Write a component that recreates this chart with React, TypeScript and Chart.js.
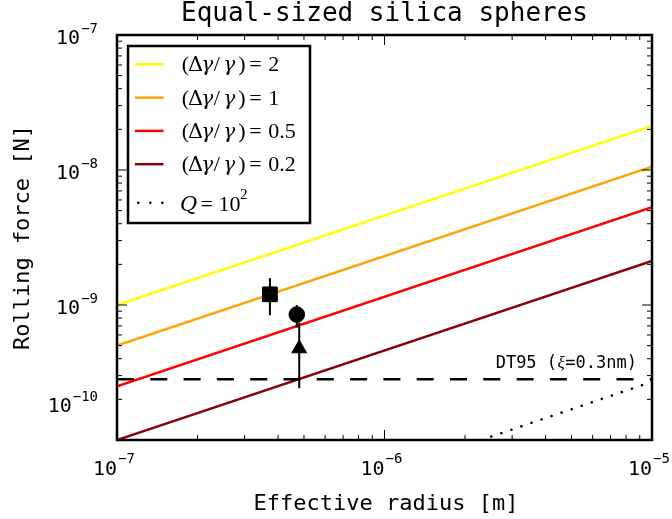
import React, { useEffect, useRef } from 'react';
import { Chart, registerables } from 'chart.js';

Chart.register(...registerables);

// ---- data ----
const radiusEnds = [1e-7, 1e-5];
const forceRatio2 = [1.0e-9, 2.12e-8];
const forceRatio1 = [5.0e-10, 1.06e-8];
const forceRatio05 = [2.5e-10, 5.3e-9];
const forceRatio02 = [1.0e-10, 2.12e-9];
const qRadius = [2.3e-6, 1e-5];
const qForce = [1.0e-10, 2.7e-10];
const dt95Radius = [1e-7, 1e-5];
const dt95Force = [2.82e-10, 2.82e-10];
const obsRadius = [3.73e-7, 4.70e-7, 4.80e-7];
const obsForce = [1.2e-9, 8.5e-10, 4.76e-10];
const obsLow = [8.4e-10, 6.8e-10, 2.42e-10];
const obsHigh = [1.58e-9, 1.0e-9, 7.4e-10];
const obsMarker = ['rect', 'circle', 'triangle'];
const seriesValues = ['2', '1', '0.5', '0.2'];
const seriesColors = ['#ffff00', '#ffa500', '#ff0000', '#8b0000'];
const xMajorTicks = [1e-7, 1e-6, 1e-5];
const yMajorTicks = [1e-10, 1e-9, 1e-8, 1e-7];
const xTickExps = ['−7', '−6', '−5'];
const yTickExps = ['−10', '−9', '−8', '−7'];
const titleText = 'Equal-sized silica spheres';
const xTitle = 'Effective radius [m]';
const yTitle = 'Rolling force [N]';
const dt95Label = 'DT95 (ξ=0.3nm)';

const mono = '"DejaVu Sans Mono", monospace';
const serif = '"Liberation Serif", "DejaVu Serif", serif';
const serif2 = '"DejaVu Serif", serif';

const pts = (xs: number[], ys: number[]) => xs.map((x, i) => ({ x, y: ys[i] }));

function drawPow(ctx: CanvasRenderingContext2D, exp: string, x: number, y: number, align: 'center' | 'right') {
  ctx.textAlign = 'left';
  ctx.textBaseline = 'alphabetic';
  ctx.font = `20px ${mono}`;
  const wb = ctx.measureText('10').width;
  ctx.font = `14px ${mono}`;
  const we = ctx.measureText(exp).width;
  const total = wb + 1 + we;
  const sx = align === 'center' ? x - total / 2 : x - total;
  ctx.font = `20px ${mono}`;
  ctx.fillText('10', sx, y);
  ctx.font = `14px ${mono}`;
  ctx.fillText(exp, sx + wb + 1, y - 11.5);
}

const decorPlugin = {
  id: 'decor',
  afterDatasetsDraw(chart: any) {
    const { ctx, chartArea } = chart;
    const { left, right, top, bottom } = chartArea;
    const xs = chart.scales.x;
    const ys = chart.scales.y;
    ctx.save();
    ctx.strokeStyle = '#000';
    ctx.lineWidth = 1;
    const seg = (a: number, b: number, c: number, d: number) => {
      ctx.beginPath();
      ctx.moveTo(a, b);
      ctx.lineTo(c, d);
      ctx.stroke();
    };
    const xTick = (v: number, len: number) => {
      const p = xs.getPixelForValue(v);
      seg(p, bottom, p, bottom - len);
      seg(p, top, p, top + len);
    };
    const yTick = (v: number, len: number) => {
      const p = ys.getPixelForValue(v);
      seg(left, p, left + len, p);
      seg(right, p, right - len, p);
    };
    xMajorTicks.forEach((v, i) => {
      xTick(v, 10);
      if (i < xMajorTicks.length - 1) for (let m = 2; m <= 9; m++) xTick(v * m, 5);
    });
    yMajorTicks.forEach((v, i) => {
      yTick(v, 10);
      if (i < yMajorTicks.length - 1) for (let m = 2; m <= 9; m++) yTick(v * m, 5);
    });
    ctx.lineWidth = 2.5;
    ctx.strokeRect(left, top, right - left, bottom - top);

    ctx.fillStyle = '#000';
    ctx.textAlign = 'left';
    ctx.textBaseline = 'alphabetic';
    ctx.font = `17px ${mono}`;
    const a = 'DT95 (';
    const c = '=0.3nm)';
    ctx.font = `17px ${mono}`;
    const wa = ctx.measureText(a).width;
    const wc = ctx.measureText(c).width;
    ctx.font = `italic 17px ${serif}`;
    const wxi = ctx.measureText('ξ').width + 1;
    const start = 637 - wa - wxi - wc;
    ctx.font = `17px ${mono}`;
    ctx.fillText(a, start, 368);
    ctx.fillText(c, start + wa + wxi, 368);
    ctx.font = `italic 17px ${serif}`;
    ctx.fillText('ξ', start + wa + 0.5, 368);
    ctx.restore();
  },
  afterDraw(chart: any) {
    const { ctx, chartArea } = chart;
    const { left, right, top, bottom } = chartArea;
    const xs = chart.scales.x;
    const ys = chart.scales.y;
    ctx.save();
    ctx.fillStyle = '#000';
    // tick labels
    xMajorTicks.forEach((v, i) => {
      drawPow(ctx, xTickExps[i], xs.getPixelForValue(v) - 3, bottom + 34.5, 'center');
    });
    yMajorTicks.forEach((v, i) => {
      const p = ys.getPixelForValue(v);
      const base = i === 0 ? p - 28 : p + 9;
      drawPow(ctx, yTickExps[i], left - 19, base, 'right');
    });
    // title and axis titles
    ctx.textAlign = 'center';
    ctx.textBaseline = 'alphabetic';
    ctx.font = `26px ${mono}`;
    ctx.fillText(titleText, (left + right) / 2, 21);
    ctx.font = `22px ${mono}`;
    ctx.fillText(xTitle, (left + right) / 2 + 1.5, 510);
    ctx.save();
    ctx.translate(28.5, (top + bottom) / 2);
    ctx.rotate(-Math.PI / 2);
    ctx.fillText(yTitle, 0, 0);
    ctx.restore();

    // legend
    const bx = 128, by = 46, bw = 182, bh = 177;
    ctx.fillStyle = '#fff';
    ctx.fillRect(bx, by, bw, bh);
    ctx.strokeStyle = '#000';
    ctx.lineWidth = 2.5;
    ctx.strokeRect(bx, by, bw, bh);
    const rowY = [64.3, 97.6, 130.9, 164.2];
    const up = `22px ${serif}`;
    const gr = `21px ${serif2}`;
    const it = `italic 20px ${serif2}`;
    ctx.fillStyle = '#000';
    ctx.textAlign = 'left';
    seriesValues.forEach((val, i) => {
      const y = rowY[i];
      ctx.strokeStyle = seriesColors[i];
      ctx.lineWidth = 2.5;
      ctx.beginPath();
      ctx.moveTo(135, y);
      ctx.lineTo(163.5, y);
      ctx.stroke();
      const b = y + 7;
      const x0 = 181.7;
      const parts: [string, string, number][] = [
        ['(', up, 0],
        ['Δ', gr, 6.2],
        ['γ', it, 19.5],
        ['/', up, 32],
        ['γ', it, 41.5],
        [')', up, 56.5],
        ['=', up, 67.5],
        [val, up, 86.6],
      ];
      parts.forEach(([t, f, dx]) => {
        ctx.font = f;
        ctx.fillText(t, x0 + dx, b);
      });
    });
    // Q row
    const qy = 202.7;
    ctx.strokeStyle = '#000';
    ctx.lineWidth = 2.6;
    ctx.lineCap = 'round';
    ctx.setLineDash([0.01, 12]);
    ctx.beginPath();
    ctx.moveTo(138.3, qy);
    ctx.lineTo(164, qy);
    ctx.stroke();
    ctx.setLineDash([]);
    ctx.lineCap = 'butt';
    const qb = 211;
    ctx.font = `italic 21px ${serif2}`;
    ctx.fillText('Q', 180, qb);
    ctx.font = up;
    ctx.fillText('=', 200.5, qb);
    ctx.fillText('10', 218.5, qb);
    ctx.font = `15px ${serif}`;
    ctx.fillText('2', 240, qb - 12);
    ctx.restore();
  },
};

export default function App() {
  const ref = useRef<HTMLCanvasElement | null>(null);
  useEffect(() => {
    document.body.style.margin = '0';
    const canvas = ref.current;
    if (!canvas) return;
    const lineSets = [forceRatio2, forceRatio1, forceRatio05, forceRatio02].map((vals, i) => ({
      label: `ratio ${seriesValues[i]}`,
      data: pts(radiusEnds, vals),
      showLine: true,
      borderColor: seriesColors[i],
      backgroundColor: seriesColors[i],
      borderWidth: 2.5,
      pointRadius: 0,
      order: 4,
    }));
    const qSet = {
      label: 'Q',
      data: pts(qRadius, qForce),
      showLine: true,
      borderColor: '#000',
      borderWidth: 2.6,
      borderDash: [0.01, 10.6],
      borderCapStyle: 'round',
      pointRadius: 0,
      order: 3,
    };
    const dtSet = {
      label: 'DT95',
      data: pts(dt95Radius, dt95Force),
      showLine: true,
      borderColor: '#000',
      borderWidth: 2.6,
      borderDash: [17, 16.3],
      pointRadius: 0,
      order: 2,
    };
    const errSets = obsRadius.map((x, i) => ({
      label: `err ${i}`,
      data: [
        { x, y: obsLow[i] },
        { x, y: obsHigh[i] },
      ],
      showLine: true,
      borderColor: '#000',
      borderWidth: 2,
      pointRadius: 0,
      order: 1,
    }));
    const markerSets = obsRadius.map((x, i) => ({
      label: `obs ${i}`,
      data: [{ x, y: obsForce[i] }],
      showLine: false,
      pointStyle: obsMarker[i],
      pointRadius: obsMarker[i] === 'rect' ? 10.4 : obsMarker[i] === 'circle' ? 7.8 : 8.5,
      backgroundColor: '#000',
      borderColor: '#000',
      pointBorderWidth: 1,
      order: 0,
    }));
    const chart = new Chart(canvas, {
      type: 'scatter',
      data: { datasets: [...markerSets, ...errSets, dtSet, qSet, ...lineSets] as any },
      options: {
        responsive: false,
        animation: false,
        events: [],
        layout: { padding: { left: 117, top: 35, right: 20, bottom: 79 } },
        plugins: {
          legend: { display: false },
          tooltip: { enabled: false },
          title: { display: false },
        },
        scales: {
          x: { type: 'logarithmic', min: 1e-7, max: 1e-5, display: false },
          y: { type: 'logarithmic', min: 1e-10, max: 1e-7, display: false },
        },
      } as any,
      plugins: [decorPlugin],
    });
    return () => chart.destroy();
  }, []);
  return (
    <canvas
      ref={ref}
      width={672}
      height={519}
      style={{ display: 'block', width: 672, height: 519 }}
    />
  );
}
